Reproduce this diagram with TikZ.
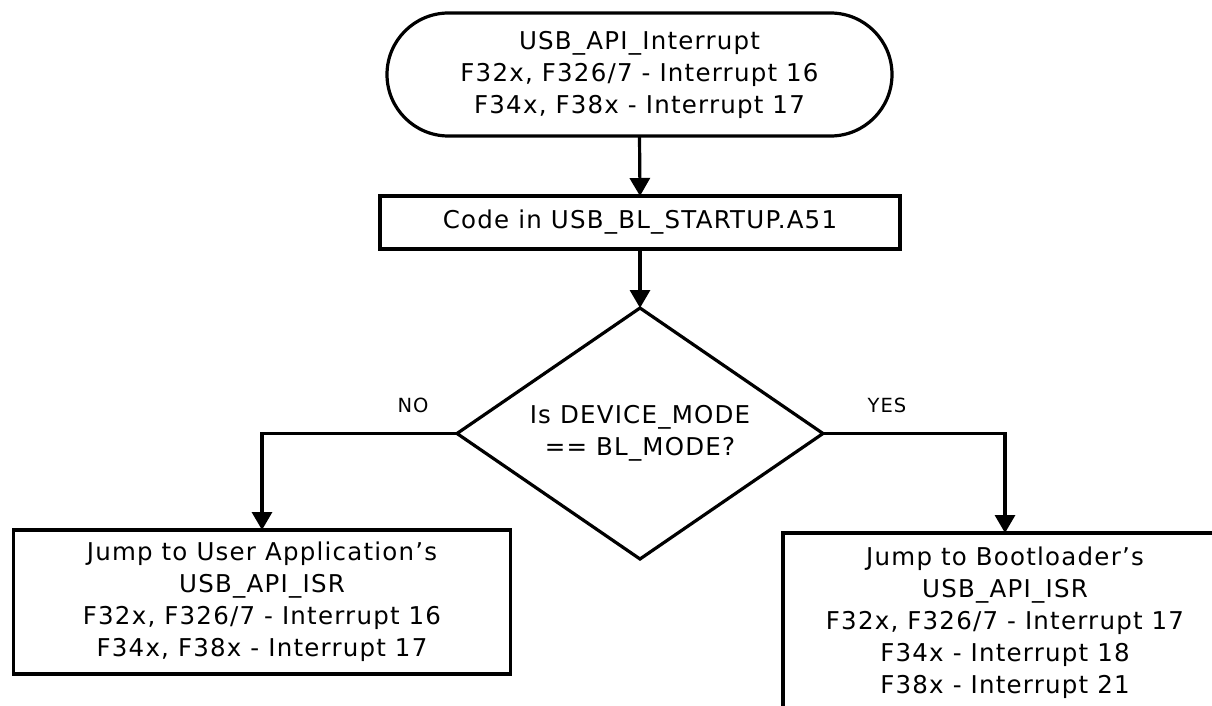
\documentclass[tikz,border=0pt]{standalone}
\usepackage{fontspec}
\setmainfont{DejaVu Sans}[LetterSpace=5]
\usetikzlibrary{shapes.geometric,arrows.meta}
\begin{document}
\begin{tikzpicture}[x=1pt,y=-1pt,
  every node/.style={inner sep=0pt, outer sep=0pt},
  txt/.style={font=\fontsize{24.5pt}{32pt}\selectfont, align=center},
  lbl/.style={font=\fontsize{19.5pt}{22pt}\selectfont},
  box/.style={draw, line width=3.2pt, txt},
  conn/.style={line width=3.2pt, -{Triangle[length=18pt,width=20pt]}}]
\useasboundingbox (0,0) rectangle (1212,706);
\clip (0,0) rectangle (1212,706);
\node[box, rounded corners=61.5pt, minimum width=505pt, minimum height=123pt] (term) at (639.5,74.5)
  {USB\_API\_Interrupt\\F32x, F326/7 - Interrupt 16\\F34x, F38x - Interrupt 17};
\node[box, minimum width=520pt, minimum height=53pt] (code) at (640,222.5)
  {Code in USB\_BL\_STARTUP.A51};
\node[box, diamond, aspect=1.458, minimum width=366pt, minimum height=251pt] (dec) at (640,433.5)
  {Is DEVICE\_MODE\\== BL\_MODE?};
\node[box, minimum width=497pt, minimum height=144pt] (lb) at (262,602)
  {Jump to User Application’s\\USB\_API\_ISR\\F32x, F326/7 - Interrupt 16\\F34x, F38x - Interrupt 17};
\node[box, minimum width=444pt, minimum height=180pt] (rb) at (1005,623)
  {Jump to Bootloader’s\\USB\_API\_ISR\\F32x, F326/7 - Interrupt 17\\F34x - Interrupt 18\\F38x - Interrupt 21};
\node[lbl] (no) at (413,405) {NO};
\node[lbl] (yes) at (887,405) {YES};
\draw[conn] (term.south) -- (code.north);
\draw[conn] (code.south) -- (dec.north);
\draw[conn] (dec.west) -| (lb.north);
\draw[conn] (dec.east) -| (rb.north);
\end{tikzpicture}
\end{document}
